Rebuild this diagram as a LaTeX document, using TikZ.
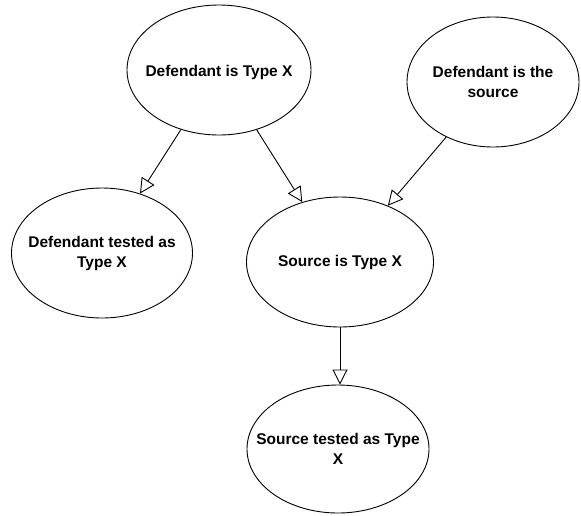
\documentclass[tikz,border=0pt]{standalone}
\usepackage{fontspec}
\setmainfont{Liberation Sans}
\usetikzlibrary{arrows.meta,shapes.geometric}
\begin{document}
\begin{tikzpicture}[x=1pt,y=-1pt,
  bel/.style={draw=black, line width=0.9pt, ellipse, inner sep=0pt, fill=white},
  lbl/.style={align=center, inner sep=0pt, font=\fontsize{15.5}{20}\selectfont\bfseries},
  link/.style={draw=black, line width=0.9pt, -{Triangle[open, length=15pt, width=15pt, line width=0.9pt]}}]
\useasboundingbox[fill=white] (0,0) rectangle (581,515);
\node[bel, minimum width=184pt, minimum height=130pt] (dx) at (219,70) {};
\node[lbl] (dxt) at ([yshift=-2pt]dx.center) {Defendant is Type X};
\node[bel, minimum width=172pt, minimum height=130pt] (ds) at (493,82) {};
\node[lbl] (dst) at (ds.center) {Defendant is the\\source};
\node[bel, minimum width=181pt, minimum height=130pt] (dt) at (102,253) {};
\node[lbl] (dtt) at (dt.center) {Defendant tested as\\Type X};
\node[bel, minimum width=187pt, minimum height=130pt] (sx) at (340,262) {};
\node[lbl] (sxt) at (sx.center) {Source is Type X};
\node[bel, minimum width=182pt, minimum height=128pt] (st) at (338,449) {};
\node[lbl] (stt) at (st.center) {Source tested as Type\\X};
\draw[link] (dx) -- (dt);
\draw[link] (dx) -- (sx);
\draw[link] (ds) -- (sx);
\draw[link] (sx.south) -- (sx.south |- st.north);
\end{tikzpicture}
\end{document}
